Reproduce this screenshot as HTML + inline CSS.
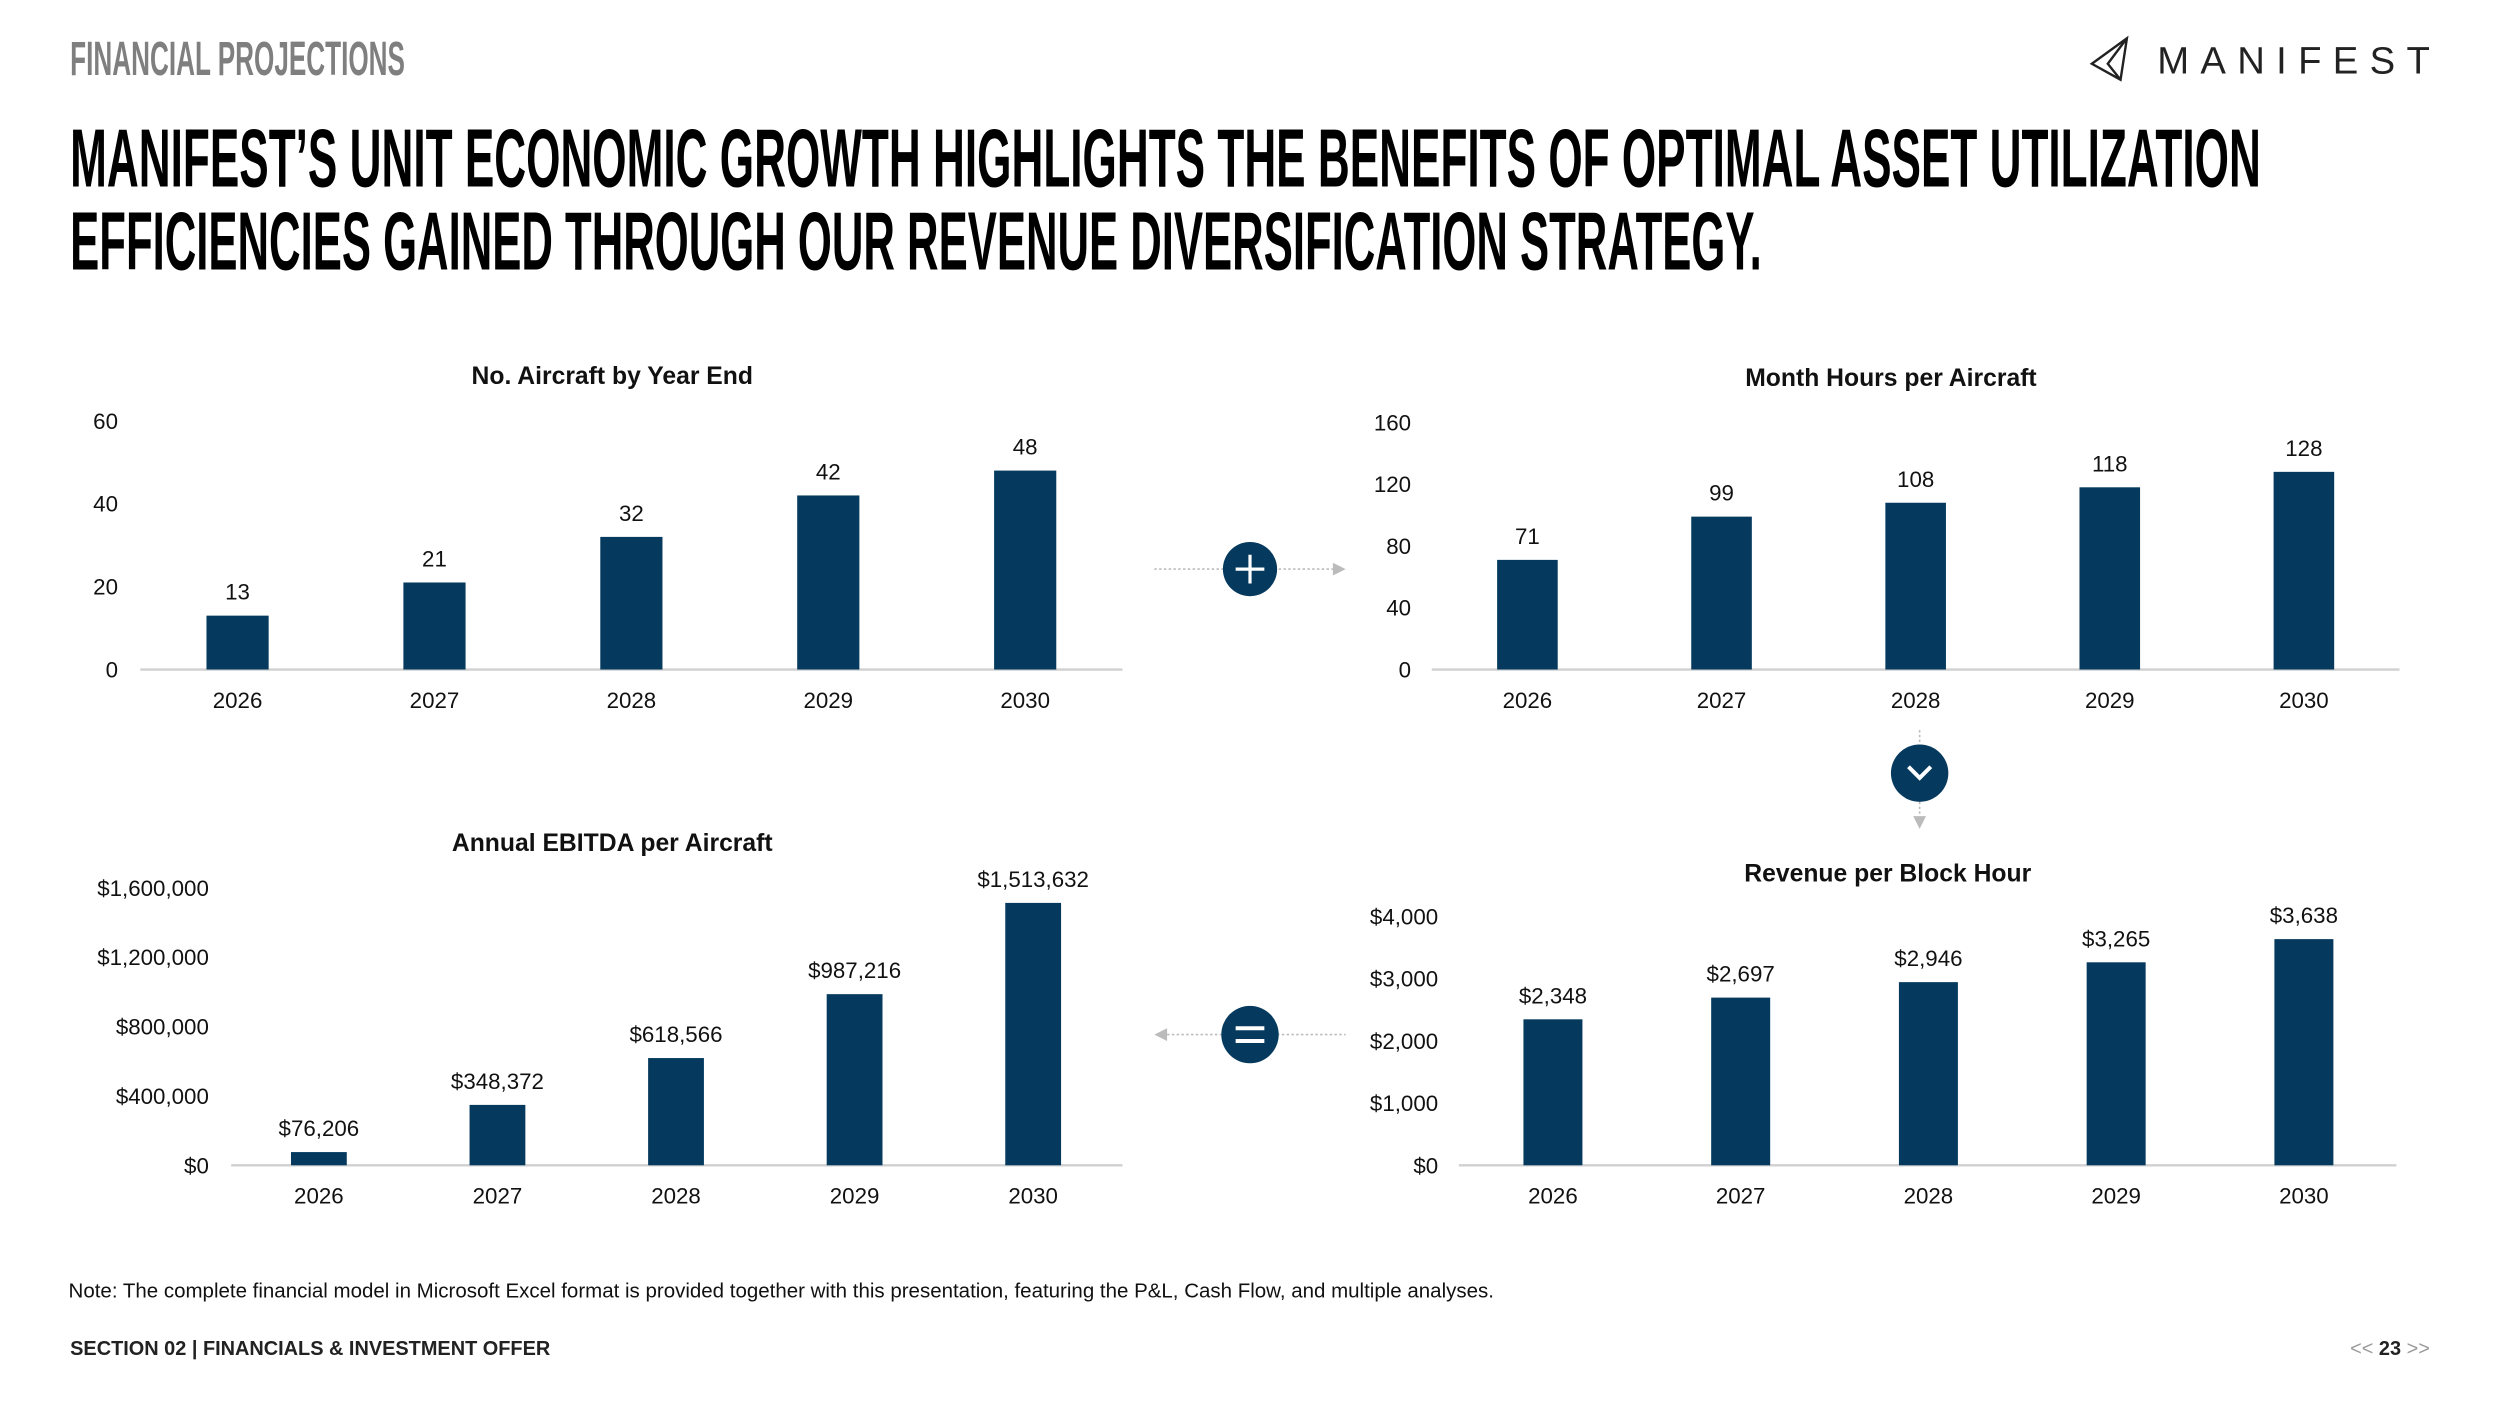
<!DOCTYPE html>
<html><head><meta charset="utf-8"><style>
html,body{margin:0;padding:0;background:#fff;}
svg{display:block;}
text{font-family:"Liberation Sans",sans-serif;}
</style></head><body>
<svg id="s" width="2500" height="1406" viewBox="0 0 1568 882" preserveAspectRatio="none">
<rect width="1568" height="882" fill="#fff"/>
<text x="44" y="47" font-size="30" font-weight="bold" fill="#7f7f7f" textLength="210" lengthAdjust="spacingAndGlyphs">FINANCIAL PROJECTIONS</text>
<g>
<path d="M1312 40 L1334 24 L1330 50 Z M1334 24 L1322 40 L1330 50" fill="none" stroke="#222" stroke-width="1.5"/>
<text x="1353" y="46" font-size="24" fill="#222" textLength="171" lengthAdjust="spacing">MANIFEST</text>
</g>
<text x="44" y="117" font-size="52" font-weight="bold" fill="#000" textLength="1374" lengthAdjust="spacingAndGlyphs">MANIFEST’S UNIT ECONOMIC GROWTH HIGHLIGHTS THE BENEFITS OF OPTIMAL ASSET UTILIZATION</text>
<text x="44" y="169" font-size="52" font-weight="bold" fill="#000" textLength="1061" lengthAdjust="spacingAndGlyphs">EFFICIENCIES GAINED THROUGH OUR REVENUE DIVERSIFICATION STRATEGY.</text>
<g id="charts"></g>
<g stroke="#bbb" stroke-dasharray="1.5 1.5">
<line x1="724" y1="357" x2="836" y2="357"/></g>
<path d="M836 353 L844 357 L836 361Z" fill="#bbb"/>
<circle cx="784" cy="357" r="17" fill="#053a5e"/>
<path d="M775 357H793M784 348V366" stroke="#fff" stroke-width="2"/>
<line x1="1204" y1="458" x2="1204" y2="512" stroke="#bbb" stroke-dasharray="1.5 1.5"/>
<path d="M1200 512 L1204 520 L1208 512Z" fill="#bbb"/>
<circle cx="1204" cy="485" r="18" fill="#053a5e"/>
<path d="M1197 481 L1204 488 L1211 481" fill="none" stroke="#fff" stroke-width="2.5"/>
<line x1="732" y1="649" x2="844" y2="649" stroke="#bbb" stroke-dasharray="1.5 1.5"/>
<path d="M732 645 L724 649 L732 653Z" fill="#bbb"/>
<circle cx="784" cy="649" r="18" fill="#053a5e"/>
<path d="M775 645H793M775 653H793" stroke="#fff" stroke-width="2.5"/>
<text x="43" y="814" font-size="12.5" fill="#111" textLength="894" lengthAdjust="spacingAndGlyphs">Note: The complete financial model in Microsoft Excel format is provided together with this presentation, featuring the P&amp;L, Cash Flow, and multiple analyses.</text>
<text x="44" y="850" font-size="12.5" font-weight="bold" fill="#222">SECTION 02 | FINANCIALS &amp; INVESTMENT OFFER</text>
<text x="1524" y="850" font-size="12.5" text-anchor="end" fill="#999">&lt;&lt; <tspan font-weight="bold" fill="#222">23</tspan> &gt;&gt;</text>
</svg>
<script>
const years=["2026","2027","2028","2029","2030"];
const aircraftVals=[13,21,32,42,48];
const aircraftTicks=[0,20,40,60];
const hoursVals=[71,99,108,118,128];
const hoursTicks=[0,40,80,120,160];
const ebitdaVals=[76206,348372,618566,987216,1513632];
const ebitdaTicks=[0,400000,800000,1200000,1600000];
const revVals=[2348,2697,2946,3265,3638];
const revTicks=[0,1000,2000,3000,4000];
const NS="http://www.w3.org/2000/svg";
const root=document.getElementById('charts');
function el(t,a,p){const e=document.createElementNS(NS,t);for(const k in a)e.setAttribute(k,a[k]);(p||root).appendChild(e);return e;}
const money=v=>'$'+v.toLocaleString('en-US');
function chart(o){
  const g=el('g',{});
  
  
  const max=o.ticks[o.ticks.length-1];
  const y=v=>o.base-(v/max)*(o.base-o.top);
  const t=el('text',{x:o.tx,y:o.ty,'font-size':15.5,'font-weight':'bold','text-anchor':'middle',fill:'#111'},g);
  t.textContent=o.title;
  
  
  o.ticks.forEach(v=>{const tk=el('text',{x:o.lx,y:y(v)+5,'font-size':14,'text-anchor':'end',fill:'#111'},g);tk.textContent=o.fmt(v);
    
    });
  const ax=el('line',{x1:o.x0,x2:o.x1,y1:o.base,y2:o.base,stroke:'#d0d0d0','stroke-width':1.5},g);
  
  
  const step=(o.c1-o.c0)/(years.length-1);
  o.vals.forEach((v,i)=>{const cx=o.c0+i*step;
    const r=el('rect',{x:cx-o.w/2,y:y(v),width:o.w,height:o.base-y(v),fill:'#053a5e'},g);
    
    
    const l=el('text',{x:cx,y:y(v)-10,'font-size':14,'text-anchor':'middle',fill:'#111'},g);l.textContent=o.vfmt(v);
    
    
    const c=el('text',{x:cx,y:o.base+24,'font-size':14,'text-anchor':'middle',fill:'#111'},g);c.textContent=years[i];
    
    
  });
}
chart({name:'aircraft-chart',title:'No. Aircraft by Year End',tx:384,ty:241,vals:aircraftVals,ticks:aircraftTicks,base:420,top:264,x0:88,x1:704,c0:149,c1:643,w:39,lx:74,fmt:v=>v,vfmt:v=>v});
chart({name:'hours-chart',title:'Month Hours per Aircraft',tx:1186,ty:242,vals:hoursVals,ticks:hoursTicks,base:420,top:265,x0:898,x1:1505,c0:958,c1:1445,w:38,lx:885,fmt:v=>v,vfmt:v=>v});
chart({name:'ebitda-chart',title:'Annual EBITDA per Aircraft',tx:384,ty:534,vals:ebitdaVals,ticks:ebitdaTicks,base:731,top:557,x0:145,x1:704,c0:200,c1:648,w:35,lx:131,fmt:money,vfmt:money});
chart({name:'revenue-chart',title:'Revenue per Block Hour',tx:1184,ty:553,vals:revVals,ticks:revTicks,base:731,top:575,x0:915,x1:1503,c0:974,c1:1445,w:37,lx:902,fmt:money,vfmt:money});
</script>
</body></html>
